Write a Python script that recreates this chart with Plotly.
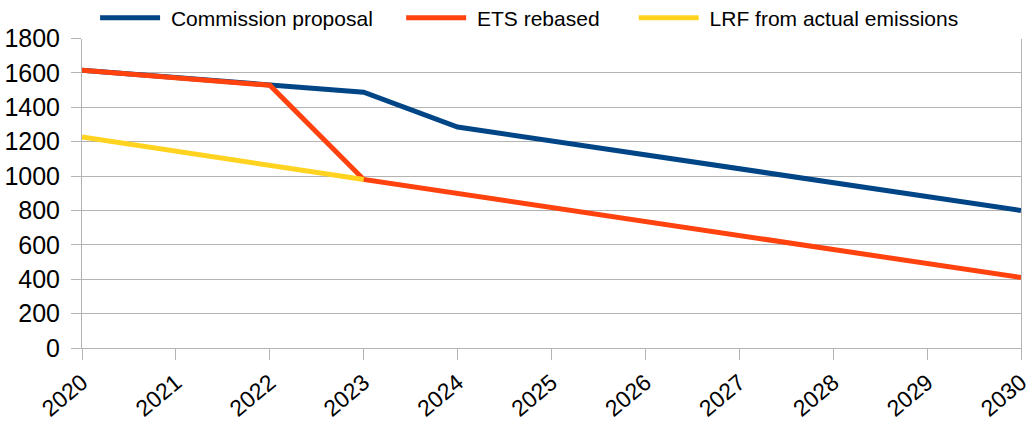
import plotly.graph_objects as go

years = ["2020", "2021", "2022", "2023", "2024", "2025", "2026", "2027", "2028", "2029", "2030"]
commission = [1615, 1572, 1528, 1488, 1285, 1204, 1123, 1042, 961, 881, 800]
ets_rebased = [1615, 1572, 1528, 980, 898, 817, 735, 654, 573, 491, 410]
lrf_actual = [1227, 1145, 1063, 980, None, None, None, None, None, None, None]

names = ["Commission proposal", "ETS rebased", "LRF from actual emissions"]
colors = ["#004586", "#ff420e", "#ffd320"]
trail = [4, 5, 3]

NB = "\u00a0"
fig = go.Figure()
for name, vals, col, t in zip(names, [commission, ets_rebased, lrf_actual], colors, trail):
    fig.add_trace(go.Scatter(x=years, y=vals, name=NB + name + NB * t, mode="lines",
                             line=dict(color=col, width=5)))

fig.update_layout(
    width=1029, height=423,
    margin=dict(l=82, r=8, t=37, b=75),
    paper_bgcolor="white", plot_bgcolor="white",
    font=dict(family="Liberation Sans, Arial, sans-serif", color="black"),
    legend=dict(orientation="h", x=0.4857, xanchor="center",
                yref="container", y=1 - 18 / 423, yanchor="middle",
                font=dict(size=21), itemwidth=60, traceorder="normal",
                bgcolor="rgba(0,0,0,0)"),
    showlegend=True,
)
fig.update_xaxes(type="category", range=[0, 10], tickangle=-40,
                 tickfont=dict(size=23), showgrid=False, automargin=False,
                 showline=True, linecolor="#b3b3b3", linewidth=1,
                 ticks="outside", ticklen=11, tickcolor="#b3b3b3")
fig.update_yaxes(range=[0, 1800], dtick=200, tickfont=dict(size=25), automargin=False,
                 showgrid=True, gridcolor="#b3b3b3", gridwidth=1,
                 showline=True, linecolor="#b3b3b3", linewidth=1, mirror=True,
                 ticks="outside", ticklen=10, tickcolor="#b3b3b3", zeroline=False,
                 ticklabelstandoff=6)

fig.write_html("out.html", config={"displayModeBar": False},
               post_script="document.body.style.margin='0';document.body.style.overflow='hidden';")
